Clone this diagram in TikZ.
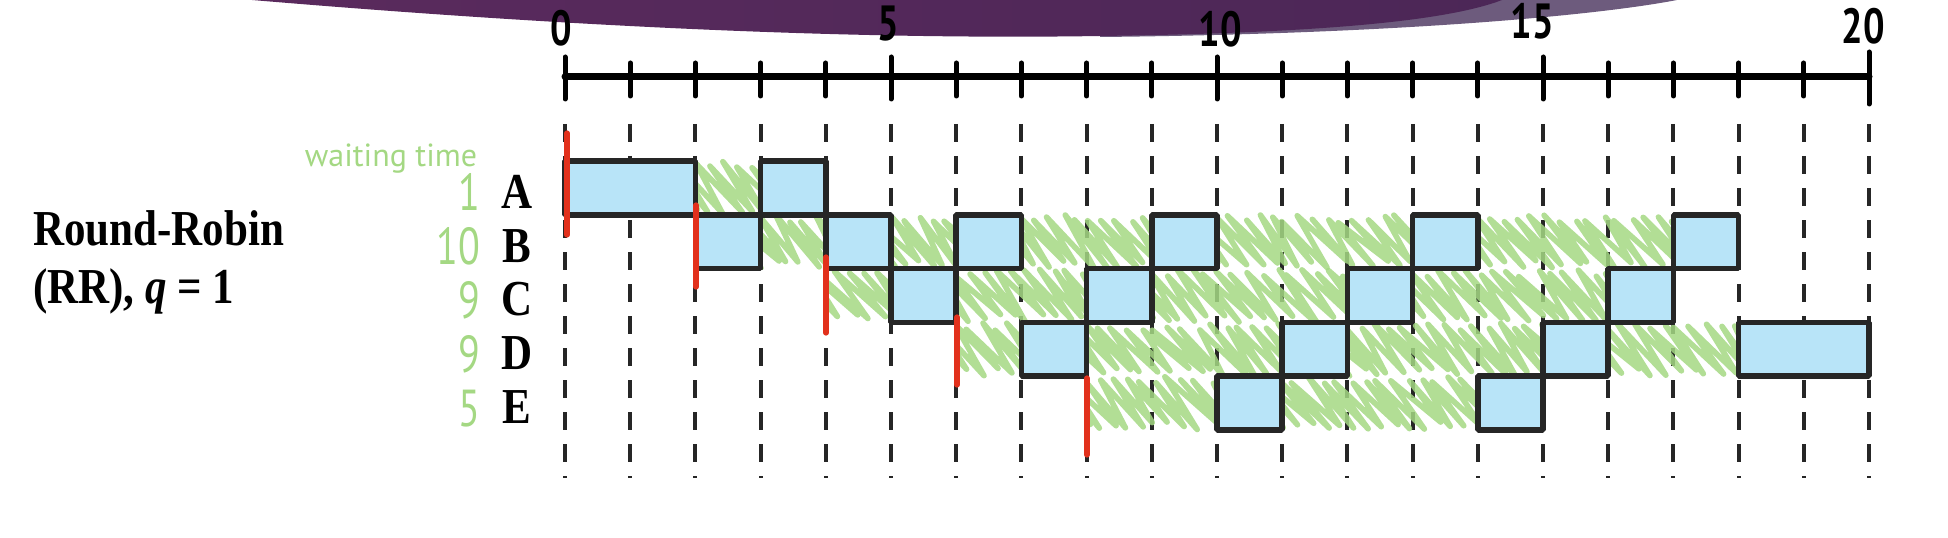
\documentclass[tikz,border=0pt]{standalone}
\usepackage{fontspec}
\setmainfont{Liberation Serif}
\newfontfamily\handfont{PT Sans}
\usetikzlibrary{positioning}
\definecolor{runfill}{HTML}{B8E4F8}
\definecolor{runedge}{HTML}{262626}
\definecolor{waitgreen}{HTML}{A4D883}
\definecolor{arrivered}{HTML}{E2311C}
\definecolor{bannerleft}{HTML}{5A2A5D}
\definecolor{bannermid}{HTML}{6B2E63}
\definecolor{bannerdark}{HTML}{4C2757}
\definecolor{bannerlight}{HTML}{6D5B7D}
\newcommand\tallser[1]{\scalebox{1}[1.17]{#1}}
\newcommand\tallhand[1]{\scalebox{1}[1.3]{#1}}
\tikzset{
  proc/.style={font=\fontsize{21.5bp}{26bp}\selectfont\bfseries, inner sep=0pt, anchor=base},
  heading/.style={font=\fontsize{21.5bp}{26bp}\selectfont\bfseries, inner sep=0pt, anchor=base west},
  waitnum/.style={font=\handfont\fontsize{20bp}{24bp}\selectfont, text=waitgreen, inner sep=0pt, anchor=base east},
  ticklbl/.style={font=\handfont\bfseries\fontsize{19bp}{22bp}\selectfont, inner sep=0pt},
  runbox/.style={draw=runedge, fill=runfill, line width=2.8bp},
  gridline/.style={draw=runedge, line width=2bp, dash pattern=on 9bp off 7bp},
  scribble/.style={draw=waitgreen, line width=2.8bp, line cap=round, line join=round, opacity=0.85},
  arrival/.style={draw=arrivered, line width=2.6bp, line cap=round},
}
\def\xo{565}
\def\dx{65.2}
\def\yo{161}
\def\dy{53.8}
\begin{document}
\begin{tikzpicture}[>=latex,line join=bevel,x=0.5bp,y=-0.5bp]
  \pgfsetlinewidth{1bp}
  \pgfmathsetseed{11}
  \useasboundingbox (0,0) rectangle (1948,538);
%%
  % Banner
  \fill[bannerlight] (1100,0) -- (1100,37) .. controls (1400,34) and (1600,15) .. (1677,0) -- cycle;
  \shade[left color=bannerleft, middle color=bannermid, right color=bannerdark] (252,0) .. controls (560,26) and (850,40) .. (1100,36) .. controls (1330,33) and (1450,20) .. (1502,0) -- cycle;
  % Time axis
  \draw[line width=3.5bp, line cap=round] (\xo,77) -- ({\xo+20*\dx},77);
  \foreach \t in {1,2,3,4,6,7,8,9,11,12,13,14,16,17,18,19}
    \draw[line width=2.5bp, line cap=round] ({\xo+\dx*\t},63) -- ({\xo+\dx*\t},96);
  \foreach \t in {0,5,10,15}
    \draw[line width=2.5bp, line cap=round] ({\xo+\dx*\t},57) -- ({\xo+\dx*\t},99);
  \draw[line width=2.5bp, line cap=round] ({\xo+\dx*20},52) -- ({\xo+\dx*20},104);
  \foreach \t/\x/\y in {0/561/28, 5/888/24, 10/1220/29, 15/1532/21, 20/1863/26}
    \node[ticklbl] (tick\t) at (\x,\y) {\tallhand{\t}};
  % Grid
  \foreach \t in {0,...,20}
    \draw[gridline] ({\xo+\dx*\t},124) -- ({\xo+\dx*\t},478);
  % Waiting
  \foreach \r/\a/\b in {0/2/3, 1/3/4, 1/5/6, 1/7/9, 1/10/13, 1/14/17, 2/4/5, 2/6/8, 2/9/12, 2/13/16, 3/6/7, 3/8/11, 3/12/15, 3/16/18, 4/8/10, 4/11/14} {
    \begin{scope}
      \clip ({\xo+\dx*\a+2},{\yo+\dy*\r-5}) rectangle ({\xo+\dx*\b-2},{\yo+\dy*(\r+1)+5});
      \pgfmathtruncatemacro\n{(\b-\a)*5+4}
      \pgfmathsetmacro\xs{\xo+\dx*\a-44}
      \pgfmathsetmacro\yt{\yo+\dy*\r+4}
      \pgfmathsetmacro\yb{\yo+\dy*(\r+1)-4}
      \draw[scribble] (\xs,\yt) \foreach \i in {0,...,\n} { -- ({\xs+14*\i+44+5*rand},{\yb+4*rand}) -- ({\xs+14*(\i+1)+4*rand},{\yt+4*rand}) };
    \end{scope}
  }
  % Running
  \foreach \r/\a/\b in {0/0/2, 0/3/4, 1/2/3, 1/4/5, 1/6/7, 1/9/10, 1/13/14, 1/17/18, 2/5/6, 2/8/9, 2/12/13, 2/16/17, 3/7/8, 3/11/12, 3/15/16, 3/18/20, 4/10/11, 4/14/15}
    \draw[runbox] ({\xo+\dx*\a},{\yo+\dy*\r}) rectangle ({\xo+\dx*\b},{\yo+\dy*(\r+1)});
  % Arrivals
  \foreach \x/\ya/\yb in {567/133/235, 696/205/287, 826/257/333, 957/317/385, 1087/378/455}
    \draw[arrival] (\x,\ya) -- (\x,\yb);
  % Node: title
  \node[heading] (title) at (32,246) {\tallser{Round-Robin}};
  \node[heading] (titleq) at (32,304) {\tallser{(RR), {\itshape q} = 1}};
  % Node: processes
  \foreach \p/\r in {A/0, B/1, C/2, D/3, E/4}
    \node[proc] (proc\p) at (517,{\yo+\dy*(\r+0.5)+20.5}) {\tallser{\p}};
  % Node: waiting times
  \node[font=\handfont\fontsize{16bp}{18bp}\selectfont, text=waitgreen, inner sep=0pt, anchor=base] (waitlbl) at (391,167) {waiting time};
  \foreach \p/\w/\r in {A/1/0, B/10/1, C/9/2, D/9/3, E/5/4}
    \node[waitnum] (wait\p) at (481,{\yo+\dy*(\r+0.5)+23}) {\tallhand{\w}};
%
\end{tikzpicture}
\end{document}
